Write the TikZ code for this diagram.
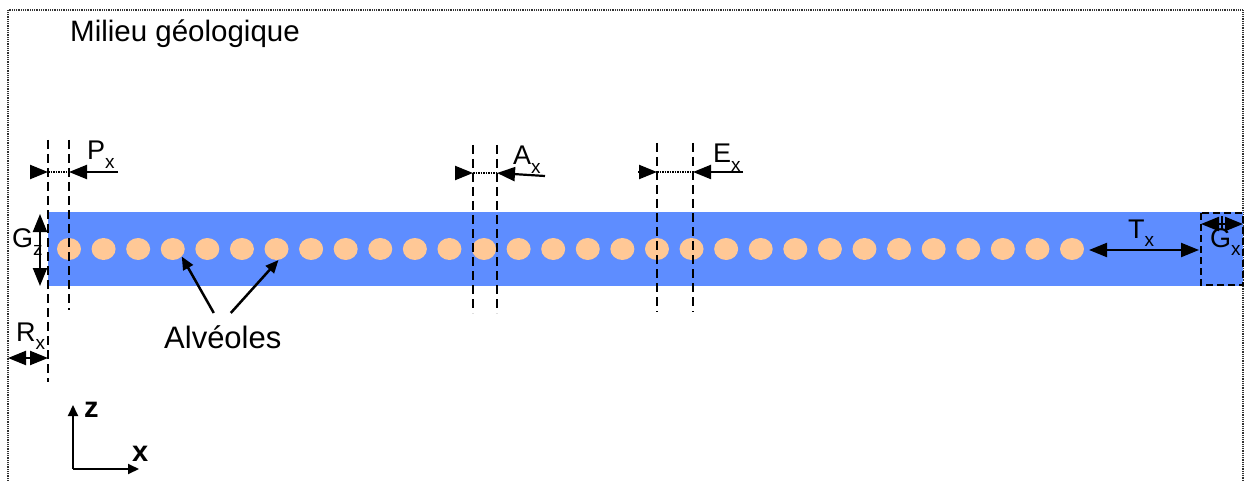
\documentclass[tikz,border=0pt]{standalone}
\usepackage{fontspec}
\setmainfont{Liberation Sans}
\usetikzlibrary{arrows.meta,shapes.geometric}
\definecolor{galerie}{RGB}{94,141,255}
\definecolor{alveole}{RGB}{255,200,150}
% lettre avec indice abaisse
\newcommand{\idx}[2]{#1\raisebox{-8.5pt}{\fontsize{19}{22}\selectfont #2}}

\begin{document}
\begin{tikzpicture}
[x=1pt,y=-1pt,
 alv/.style={ellipse,fill=alveole,minimum width=24pt,minimum height=22pt,inner sep=0pt},
 limite/.style={dash pattern=on 9pt off 5pt,line width=2.5pt},
 dim/.style={-{Triangle[length=18pt,width=14pt]},line width=2.2pt},
 dimboth/.style={{Triangle[length=18pt,width=14pt]}-{Triangle[length=18pt,width=14pt]},line width=2.2pt},
 gap/.style={dash pattern=on 1.5pt off 1pt,line width=1.5pt},
 lbl/.style={font=\fontsize{27}{32}\selectfont,inner sep=0pt,anchor=base west}]
\useasboundingbox (0,0) rectangle (1244,481);

% cadre du milieu
\draw[black!80,dash pattern=on 1pt off 0.8pt,line width=1.5pt]
  (8,481) -- (8,10) -- (1243,10) -- (1243,481);
\node[lbl,font=\fontsize{29.5}{34}\selectfont] (milieu) at (70,42) {Milieu géologique};

% galerie et alveoles
\fill[galerie] (48,212) rectangle (1243,286);
\foreach \i in {0,...,29}
  \node[alv] (alv\i) at ({69+34.586*\i},249) {};

% limites
\coordinate (p1t) at (48,140);  \coordinate (p1b) at (48,382);
\coordinate (p2t) at (69,140);  \coordinate (p2b) at (69,310);
\coordinate (a1t) at (473,145); \coordinate (a1b) at (473,313);
\coordinate (a2t) at (497,145); \coordinate (a2b) at (497,313);
\coordinate (e1t) at (657,143); \coordinate (e1b) at (657,312);
\coordinate (e2t) at (693,143); \coordinate (e2b) at (693,312);
\foreach \a/\b in {p1t/p1b,p2t/p2b,a1t/a1b,a2t/a2b,e1t/e1b,e2t/e2b}
  \draw[limite] (\a) -- (\b);
\draw[limite,dash pattern=on 7pt off 4pt] (1201,213) rectangle (1243,285);

% cote P
\coordinate (pl) at (30,172);  \coordinate (pa) at (48,172);
\coordinate (pr) at (118,172); \coordinate (pb) at (69,172);
\draw[gap] (pa) -- (pb);
\draw[dim] (pl) -- (pa);
\draw[dim] (pr) -- (pb);
\node[lbl] (px) at (87,160) {\idx{P}{x}};

% cote A
\coordinate (al) at (455,173); \coordinate (aa) at (473,173);
\coordinate (ar) at (545,176); \coordinate (ab) at (497,173);
\draw[gap] (aa) -- (ab);
\draw[dim] (al) -- (aa);
\draw[dim] (ar) -- (ab);
\node[lbl] (ax) at (513,165) {\idx{A}{x}};

% cote E
\coordinate (el) at (638,172); \coordinate (ea) at (657,172);
\coordinate (er) at (743,172); \coordinate (eb) at (693,172);
\draw[gap] (ea) -- (eb);
\draw[dim] (el) -- (ea);
\draw[dim] (er) -- (eb);
\node[lbl] (ex) at (713,163) {\idx{E}{x}};

% cotes T, G, R
\coordinate (tl) at (1089,250); \coordinate (tr) at (1199,250);
\draw[dimboth] (tl) -- (tr);
\node[lbl] (tx) at (1128,238) {\idx{T}{x}};

\coordinate (gm) at (1222,224);
\coordinate (gl) at (1201,224); \coordinate (gr) at (1243,224);
\draw[dim] (gm) -- (gl);
\draw[dim] (gm) -- (gr);
\draw[line width=1.5pt] (1222,216) -- (1222,229);
\node[lbl] (gx) at (1210,247) {\idx{G}{x}};

\coordinate (gzt) at (40,214); \coordinate (gzb) at (40,286);
\draw[dimboth] (gzt) -- (gzb);
\node[lbl] (gz) at (12,247) {\idx{G}{z}};

\coordinate (rl) at (8,358); \coordinate (rr) at (48,358);
\draw[dimboth] (rl) -- (rr);
\node[lbl] (rx) at (16,341) {\idx{R}{x}};

% alveoles
\node[lbl,font=\fontsize{31}{36}\selectfont] (alvlbl) at (164,348) {Alvéoles};
\draw[-{Triangle[length=13pt,width=11pt]},line width=2.5pt]
  ([xshift=-9pt,yshift=12pt]alvlbl.north) -- (alv3.-40);
\draw[-{Triangle[length=13pt,width=11pt]},line width=2.5pt]
  ([xshift=8pt,yshift=12pt]alvlbl.north) -- (alv6.-80);

% repere
\coordinate (o) at (73,469);
\coordinate (oz) at (73,405);
\coordinate (ox) at (139,469);
\draw[-{Triangle[length=11pt,width=10pt]},line width=2pt] (o) -- (oz);
\draw[-{Triangle[length=11pt,width=10pt]},line width=2pt] (o) -- (ox);
\node[lbl,font=\fontsize{29}{32}\bfseries] (z) at (84,417) {z};
\node[lbl,font=\fontsize{29}{32}\bfseries] (x) at (132,461) {x};
\end{tikzpicture}
\end{document}
